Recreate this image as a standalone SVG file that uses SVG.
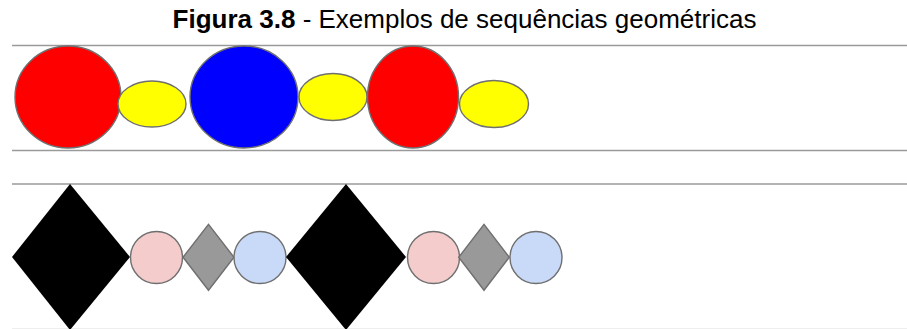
<svg xmlns="http://www.w3.org/2000/svg" width="907" height="329" viewBox="0 0 907 329">
<style>
.rule{stroke:#9a9a9a;stroke-width:1.6;fill:none}
.shape{stroke:#6f6f6f;stroke-width:1.4}
.red{fill:#ff0000}
.yellow{fill:#ffff00}
.blue{fill:#0000ff}
.pink{fill:#f4cccc}
.grey{fill:#999999}
.lblue{fill:#c9daf8}
.black{fill:#000000}
.title{font-family:"Liberation Sans",Arial,sans-serif;font-size:26px;fill:#000}
</style>
<rect width="907" height="329" fill="#ffffff"/>
<text class="title" x="464.5" y="28" text-anchor="middle"><tspan font-weight="bold">Figura 3.8</tspan> - Exemplos de sequências geométricas</text>
<g id="rules">
<line class="rule" x1="12" y1="45.5" x2="907" y2="45.5"/>
<line class="rule" x1="12" y1="150.5" x2="907" y2="150.5"/>
<line class="rule" x1="12" y1="184" x2="907" y2="184"/>
<line x1="12" y1="328.5" x2="907" y2="328.5" stroke="#eeeeee" stroke-width="1"/>
</g>
<g id="row1">
<ellipse id="red1" class="shape red" cx="68" cy="97" rx="53" ry="51"/>
<ellipse id="yellow1" class="shape yellow" cx="152" cy="104" rx="34" ry="23"/>
<ellipse id="blue1" class="shape blue" cx="244" cy="97" rx="54" ry="51"/>
<ellipse id="yellow2" class="shape yellow" cx="333" cy="97" rx="34" ry="23.5"/>
<ellipse id="red2" class="shape red" cx="413" cy="97" rx="45.5" ry="51"/>
<ellipse id="yellow3" class="shape yellow" cx="494" cy="104" rx="34.5" ry="23.5"/>
</g>
<g id="row2">
<polygon id="black1" class="black" points="12,257 70,184 130,257 70,330"/>
<circle id="pink1" class="shape pink" cx="156.5" cy="257.5" r="26"/>
<polygon id="grey1" class="shape grey" points="183,257.3 208.5,224.3 234,257.3 208.5,290.3"/>
<circle id="lblue1" class="shape lblue" cx="260" cy="257.5" r="26"/>
<polygon id="black2" class="black" points="286,257 346,184 406,257 346,330"/>
<circle id="pink2" class="shape pink" cx="433.5" cy="257.5" r="26"/>
<polygon id="grey2" class="shape grey" points="458.7,257.3 484,224.3 509.3,257.3 484,290.3"/>
<circle id="lblue2" class="shape lblue" cx="536" cy="257.5" r="26"/>
</g>
<g id="connectors"/>
</svg>
